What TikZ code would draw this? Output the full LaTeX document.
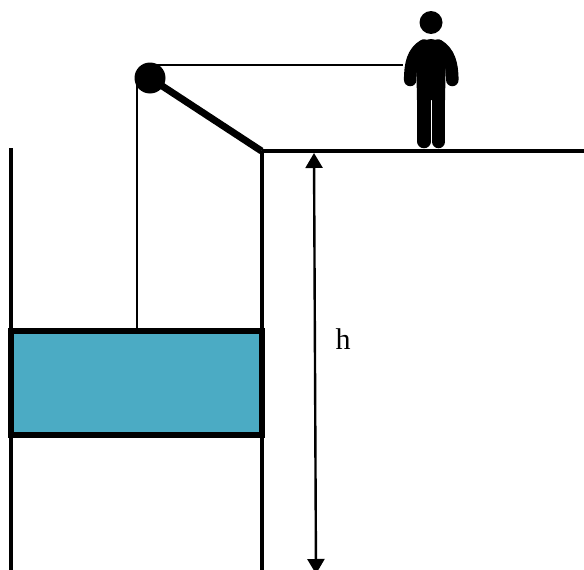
\documentclass[tikz,border=0pt]{standalone}
\usepackage{fontspec}
\setmainfont{Liberation Serif}
\usetikzlibrary{arrows.meta}
\definecolor{cagecol}{HTML}{4BABC4}
\tikzset{
  wall/.style={line width=4pt,black},
  rope/.style={line width=2pt,black},
  dim/.style={line width=2.4pt,black,{Triangle[length=15pt,width=17pt]}-{Triangle[length=15pt,width=17pt]}},
  pulley/.style={circle,fill=black,inner sep=0pt,minimum size=31pt},
  lbl/.style={font=\fontsize{30}{33}\selectfont,inner sep=0pt},
  limb/.style={line width=12.5pt,black,line cap=round,line join=round},
  leg/.style={line width=13.5pt,black,line cap=round}
}
\begin{document}
\begin{tikzpicture}[x=1pt,y=-1pt]
\useasboundingbox (0,0) rectangle (584,570);
\clip (0,0) rectangle (584,570);
\coordinate (wallLtop) at (11,148);
\coordinate (wallLbot) at (11,572);
\coordinate (edge) at (261.5,151);
\coordinate (wallRbot) at (261.5,572);
\coordinate (groundEnd) at (584,151);
\coordinate (dimTop) at (314,153);
\coordinate (dimBot) at (316,574);
\coordinate (hookTop) at (137,78);
\coordinate (hookBot) at (137,331);
\coordinate (ropeStart) at (150,64.5);
\coordinate (hand) at (403,64.5);
\draw[wall] (wallLtop) -- (wallLbot);
\draw[wall] (edge) -- (wallRbot);
\draw[wall] (edge) -- (groundEnd);
\draw[rope] (hookTop) -- (hookBot);
\draw[rope] (ropeStart) -- (hand);
\node[pulley] (pul) at (150,78) {};
\draw[line width=7pt,black] (pul.center) -- (edge);
\fill[cagecol] (11,331) rectangle (262,435);
\draw[black,line width=5.5pt] (11,331) rectangle (262,435);
\draw[dim] (dimTop) -- (dimBot);
\node[lbl] (hlabel) at (343,339) {h};
% person
\fill[black] (431,22.5) circle (11.5);
\fill[black] (417,100) -- (416,52) .. controls (420,43) and (425,39) .. (431,39)
  .. controls (437,39) and (442,43) .. (446,52) -- (445,100) -- cycle;
\draw[limb] (410.2,80) .. controls (410.2,64) and (413,52) .. (424,45.5);
\draw[limb] (452.3,80) .. controls (452.3,64) and (449,52) .. (438,45.5);
\draw[leg] (424,90) -- (424,141.5);
\draw[leg] (438.5,90) -- (438.5,141.5);
\end{tikzpicture}
\end{document}
